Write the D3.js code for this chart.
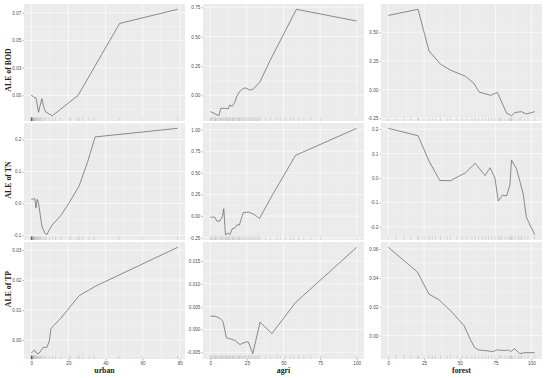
<!DOCTYPE html>
<html>
<head>
<meta charset="utf-8">
<script src="https://cdn.jsdelivr.net/npm/d3@7.9.0/dist/d3.min.js"></script>
<style>
  body { margin: 0; background: #fff; }
  svg { display: block; }
</style>
</head>
<body>
<svg id="chart" width="550" height="378"></svg>
<script>
// predictors (columns) and responses (rows)
const predictors = ["urban", "agri", "forest"];
const responses = ["BOD", "TN", "TP"];

// observed predictor values drawn as rugs
const urbanRug = [0, 0, 0, 0, 0, 0, 0.1, 0.2, 0.3, 0.4, 0.5, 0.6, 0.8, 1.0, 1.2, 1.5, 1.8, 2.1, 2.5, 2.9,
  3.3, 3.8, 4.3, 4.8, 5.2, 6.1, 7.2, 7.9, 9.7, 11.4, 13, 15.9, 20.4, 21.3, 24.9, 25.8, 27.6, 31.1, 33.8,
  47.2, 59.8, 78.9];
const agriRug = [0, 0.5, 1, 2, 3, 3.5, 4, 5, 6, 7, 7.5, 8, 9, 10, 10.5, 11, 12, 12.5, 13, 14, 15, 15.5,
  16, 17, 18, 19, 19.5, 20, 21, 22, 23, 24, 25, 26, 27, 28, 29, 30, 31, 32, 33, 34, 37.5, 41, 45.5,
  47.8, 51.2, 54.7, 57, 60.5, 63.9, 68.5, 75.4, 100];
const forestRug = [0, 5.3, 11.1, 15.7, 20.8, 20.8, 25, 28.4, 30.7, 33, 36.5, 41.1, 43.4, 48, 51.5, 55,
  58.4, 60.7, 63.1, 65.4, 67.7, 70, 72.3, 74.6, 76.9, 78, 79.2, 81.5, 83.8, 85, 85.5, 86.1, 87, 88.4,
  90.7, 92, 93, 95.3, 97.6, 102.3];

// ALE curves: [predictor value, ALE]
const bodUrban = [[0, 0.0], [1.2, -0.001], [2.1, -0.0025], [2.5, -0.002], [3.9, -0.0153], [4.6, -0.0101],
  [5.7, -0.003], [6.6, -0.0101], [7.9, -0.0153], [11.4, -0.0184], [25.2, 0.0], [47.6, 0.0653], [78.9, 0.0781]];
const bodAgri = [[0, -0.139], [5.9, -0.174], [7.1, -0.111], [9.9, -0.111], [12.2, -0.117], [13.3, -0.082],
  [14.9, -0.096], [16.8, -0.058], [17.9, -0.015], [19.8, 0.029], [21.8, 0.052], [23.7, 0.064], [27.1, 0.044],
  [29.4, 0.052], [34, 0.116], [41, 0.30], [58.8, 0.732], [100, 0.632]];
const bodForest = [[0, 0.647], [20.8, 0.700], [28.4, 0.338], [36.5, 0.221], [43.4, 0.170], [53.8, 0.117],
  [59.6, 0.058], [63.5, -0.021], [71.6, -0.050], [76.2, -0.024], [78, -0.074], [82.7, -0.206], [86.1, -0.227],
  [88.4, -0.200], [93.1, -0.192], [96.5, -0.212], [102.3, -0.192]];

const tnUrban = [[0, 0.0127], [1.9, 0.0148], [2.5, -0.0138], [3.2, 0.0127], [3.9, 0.0], [5.7, -0.072],
  [7.3, -0.093], [8.4, -0.098], [9.7, -0.0825], [11.4, -0.0667], [15.9, -0.038], [20.4, 0.002], [25.8, 0.055],
  [30.3, 0.129], [34.4, 0.208], [78.9, 0.235]];
const tnAgri = [[0, -0.012], [3.0, -0.012], [4.6, -0.059], [6.4, -0.059], [8.3, 0.0], [9.2, 0.086],
  [10.3, -0.215], [12.2, -0.195], [13.3, -0.215], [14.9, -0.148], [16.8, -0.137], [18.4, -0.098], [19.8, -0.105],
  [22.5, 0.039], [26, 0.047], [29.9, 0.020], [33.6, -0.027], [42.1, 0.234], [58.2, 0.703], [100, 1.016]];
const tnForest = [[0, 0.2035], [20.8, 0.173], [28.4, 0.070], [36.0, -0.010], [43.4, -0.011], [53.8, 0.021],
  [60.7, 0.060], [67.6, 0.010], [71.1, 0.042], [74.5, 0.0], [76.9, -0.094], [79.9, -0.070], [82.7, -0.073],
  [85.0, -0.028], [86.1, 0.074], [89.6, 0.038], [94.2, -0.063], [96.5, -0.161], [102.3, -0.232]];

const tpUrban = [[0, -0.0043], [1.2, -0.0035], [2.1, -0.0035], [3.0, -0.0045], [4.3, -0.0043], [6.4, -0.0024],
  [8.4, -0.0024], [9.7, -0.0003], [10.6, 0.0039], [15.9, 0.0073], [25.8, 0.0148], [34.7, 0.018], [78.9, 0.0309]];
const tpAgri = [[0, 0.0029], [3.4, 0.0029], [6.9, 0.0024], [8.7, 0.0017], [11.0, -0.0018], [13.3, -0.0020],
  [16.8, -0.0024], [20.2, -0.0033], [23.7, -0.0028], [26.0, -0.0027], [29.0, -0.0053], [34.0, 0.0016],
  [42.1, -0.0009], [58.2, 0.0059], [100, 0.0180]];
const tpForest = [[0, 0.0612], [20.3, 0.0441], [28.4, 0.0287], [35.3, 0.0249], [44.6, 0.0161], [53.1, 0.0066],
  [57.3, -0.0028], [60.3, -0.0083], [63.1, -0.0100], [73.4, -0.0111], [75.7, -0.0100], [81.5, -0.0104],
  [83.8, -0.0100], [85.4, -0.0111], [88.4, -0.0092], [91.9, -0.0126], [95.3, -0.0119], [102.3, -0.0119]];

// tick values
const urbanTicks = [0, 20, 40, 60, 80];
const agriTicks = [0, 25, 50, 75, 100];
const forestTicks = [0, 25, 50, 75, 100];
const bodUrbanTicks = [0, 0.025, 0.05, 0.075];
const bodAgriTicks = [0, 0.25, 0.5, 0.75];
const bodForestTicks = [-0.25, 0, 0.25, 0.5];
const tnUrbanTicks = [-0.1, 0, 0.1, 0.2];
const tnAgriTicks = [-0.25, 0, 0.25, 0.5, 0.75, 1];
const tnForestTicks = [-0.2, -0.1, 0, 0.1, 0.2];
const tpUrbanTicks = [0, 0.01, 0.02, 0.03];
const tpAgriTicks = [-0.005, 0, 0.005, 0.01, 0.015];
const tpForestTicks = [0, 0.02, 0.04, 0.06];

const columns = [
  { name: "urban", rug: urbanRug, ticks: urbanTicks, curves: [bodUrban, tnUrban, tpUrban] },
  { name: "agri", rug: agriRug, ticks: agriTicks, curves: [bodAgri, tnAgri, tpAgri] },
  { name: "forest", rug: forestRug, ticks: forestTicks, curves: [bodForest, tnForest, tpForest] }
];
const yTickSets = [
  [bodUrbanTicks, bodAgriTicks, bodForestTicks],
  [tnUrbanTicks, tnAgriTicks, tnForestTicks],
  [tpUrbanTicks, tpAgriTicks, tpForestTicks]
];
const yFormats = [
  [".2f", ".2f", ".2f"],
  [".1f", ".2f", ".1f"],
  [".2f", ".3f", ".2f"]
];

const fmt = d3.formatLocale({ decimal: ".", thousands: ",", grouping: [3], currency: ["", ""], minus: "-" }).format;

const svg = d3.select("#chart");
const colLeft = [24, 203, 381];
const rowTop = [4, 123, 242];
const panelW = 161, panelH = 117;
const titleY = [70, 180, 289];

// ggplot-like 5% expansion
function expand(ext) {
  const d = (ext[1] - ext[0]) * 0.05;
  return [ext[0] - d, ext[1] + d];
}
// minor breaks halfway between major ones
function minorBreaks(ticks, domain) {
  const out = [];
  const step = ticks[1] - ticks[0];
  const all = [ticks[0] - step].concat(ticks, [ticks[ticks.length - 1] + step]);
  for (let i = 0; i < all.length - 1; i++) {
    const m = (all[i] + all[i + 1]) / 2;
    if (m > domain[0] && m < domain[1]) out.push(m);
  }
  return out;
}

columns.forEach((col, c) => {
  const allX = col.rug.concat(...col.curves.map(cv => cv.map(d => d[0])));
  const x = d3.scaleLinear()
    .domain(expand(d3.extent(allX)))
    .range([colLeft[c], colLeft[c] + panelW]);

  col.curves.forEach((curve, r) => {
    const top = rowTop[r];
    const y = d3.scaleLinear()
      .domain(expand(d3.extent(curve, d => d[1])))
      .range([top + panelH, top]);
    const g = svg.append("g");
    const yTicks = yTickSets[r][c];

    g.append("rect")
      .attr("x", colLeft[c]).attr("y", top)
      .attr("width", panelW).attr("height", panelH)
      .attr("fill", "#ebebeb");

    // minor grid
    g.selectAll(".vmin").data(minorBreaks(col.ticks, x.domain())).join("line")
      .attr("x1", d => x(d)).attr("x2", d => x(d))
      .attr("y1", top).attr("y2", top + panelH)
      .attr("stroke", "#fff").attr("stroke-width", 0.3);
    g.selectAll(".hmin").data(minorBreaks(yTicks, y.domain())).join("line")
      .attr("x1", colLeft[c]).attr("x2", colLeft[c] + panelW)
      .attr("y1", d => y(d)).attr("y2", d => y(d))
      .attr("stroke", "#fff").attr("stroke-width", 0.3);
    // major grid
    g.selectAll(".vmaj").data(col.ticks.filter(t => t >= x.domain()[0] && t <= x.domain()[1])).join("line")
      .attr("x1", d => x(d)).attr("x2", d => x(d))
      .attr("y1", top).attr("y2", top + panelH)
      .attr("stroke", "#fff").attr("stroke-width", 0.6);
    g.selectAll(".hmaj").data(yTicks).join("line")
      .attr("x1", colLeft[c]).attr("x2", colLeft[c] + panelW)
      .attr("y1", d => y(d)).attr("y2", d => y(d))
      .attr("stroke", "#fff").attr("stroke-width", 0.6);

    // rug
    g.selectAll(".rug").data(col.rug).join("line")
      .attr("x1", d => x(d)).attr("x2", d => x(d))
      .attr("y1", top + panelH).attr("y2", top + panelH - 3.5)
      .attr("stroke", "#000").attr("stroke-opacity", 0.18).attr("stroke-width", 0.6);

    // ALE line
    g.append("path")
      .datum(curve)
      .attr("d", d3.line().x(d => x(d[0])).y(d => y(d[1])))
      .attr("fill", "none")
      .attr("stroke", "#5e5e5e")
      .attr("stroke-width", 0.7);

    // y axis
    const ya = svg.append("g")
      .attr("transform", `translate(${colLeft[c]},0)`)
      .call(d3.axisLeft(y).tickValues(yTicks).tickFormat(fmt(yFormats[r][c])).tickSize(1.5).tickPadding(1.2));
    ya.select(".domain").remove();
    ya.selectAll("line").attr("stroke", "#444").attr("stroke-width", 0.4);
    ya.selectAll("text").attr("font-family", "Liberation Sans, Arial, sans-serif")
      .attr("font-size", 4.6).attr("fill", "#4d4d4d");

    // x axis only on bottom row
    if (r === 2) {
      const xa = svg.append("g")
        .attr("transform", `translate(0,${top + panelH})`)
        .call(d3.axisBottom(x).tickValues(col.ticks).tickFormat(d3.format("d")).tickSize(1.5).tickPadding(1.5));
      xa.select(".domain").remove();
      xa.selectAll("line").attr("stroke", "#444").attr("stroke-width", 0.4);
      xa.selectAll("text").attr("font-family", "Liberation Sans, Arial, sans-serif")
        .attr("font-size", 4.6).attr("fill", "#4d4d4d");

      svg.append("text")
        .attr("x", colLeft[c] + panelW / 2).attr("y", 372.5)
        .attr("text-anchor", "middle")
        .attr("font-family", "Liberation Serif, Times New Roman, serif")
        .attr("font-weight", "bold").attr("font-size", 7.8).attr("fill", "#222")
        .text(predictors[c]);
    }
  });
});

// y titles on the first column
responses.forEach((resp, r) => {
  svg.append("text")
    .attr("transform", `translate(10.5,${titleY[r]}) rotate(-90)`)
    .attr("text-anchor", "middle")
    .attr("font-family", "Liberation Serif, Times New Roman, serif")
    .attr("font-weight", "bold").attr("font-size", 7.8).attr("fill", "#222")
    .text("ALE of " + resp);
});
</script>
</body>
</html>
